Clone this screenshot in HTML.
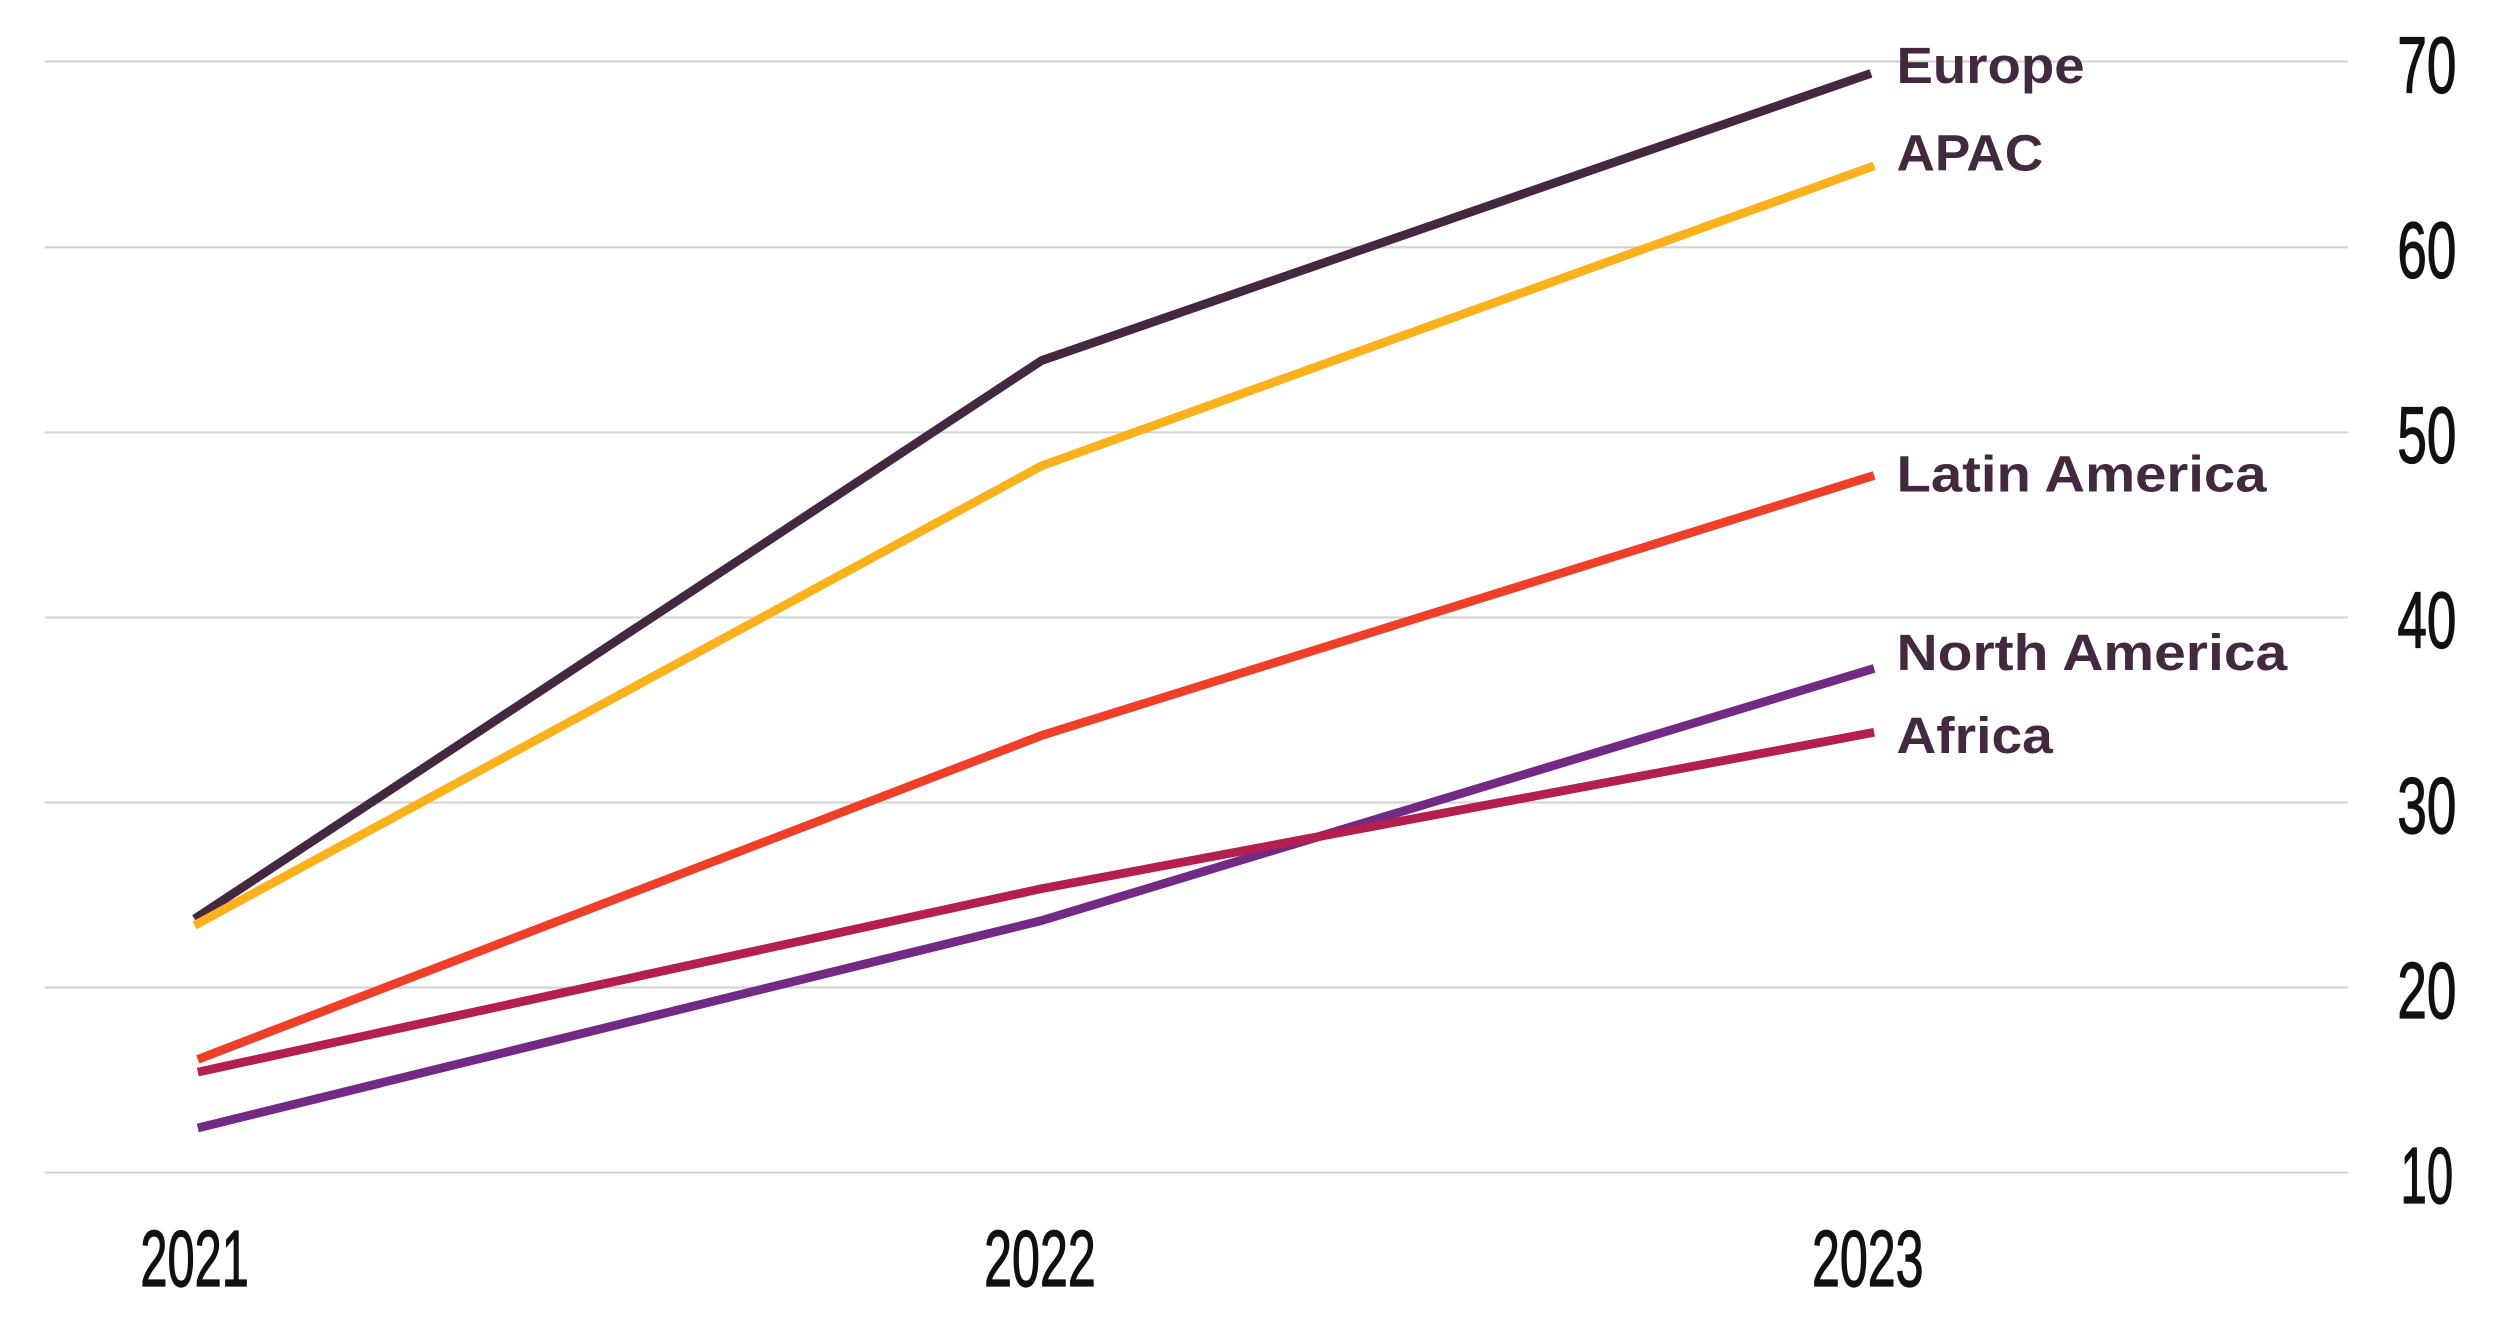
<!DOCTYPE html>
<html><head><meta charset="utf-8"><style>html,body{margin:0;padding:0;background:#fff}svg{display:block}</style></head>
<body>
<svg width="2501" height="1321" viewBox="0 0 1568 828" preserveAspectRatio="none" xmlns="http://www.w3.org/2000/svg">
<g stroke="#d3d3d3" stroke-width="1.3">
<line x1="28" y1="38.5" x2="1472" y2="38.5"/>
<line x1="28" y1="155" x2="1472" y2="155"/>
<line x1="28" y1="271" x2="1472" y2="271"/>
<line x1="28" y1="387" x2="1472" y2="387"/>
<line x1="28" y1="503" x2="1472" y2="503"/>
<line x1="28" y1="619" x2="1472" y2="619"/>
<line x1="28" y1="735" x2="1472" y2="735"/>
</g>
<g font-family="Liberation Sans, sans-serif" font-size="50" fill="#111" stroke="#111" stroke-width="0.8">
<text x="1503" y="58" textLength="37" lengthAdjust="spacingAndGlyphs">70</text>
<text x="1503" y="174" textLength="37" lengthAdjust="spacingAndGlyphs">60</text>
<text x="1503" y="290" textLength="37" lengthAdjust="spacingAndGlyphs">50</text>
<text x="1503" y="406" textLength="37" lengthAdjust="spacingAndGlyphs">40</text>
<text x="1503" y="522" textLength="37" lengthAdjust="spacingAndGlyphs">30</text>
<text x="1503" y="638" textLength="37" lengthAdjust="spacingAndGlyphs">20</text>
<text x="1505" y="754" textLength="33" lengthAdjust="spacingAndGlyphs">10</text>
<text x="88" y="806" textLength="68" lengthAdjust="spacingAndGlyphs">2021</text>
<text x="617" y="806" textLength="70" lengthAdjust="spacingAndGlyphs">2022</text>
<text x="1136" y="806" textLength="70" lengthAdjust="spacingAndGlyphs">2023</text>
</g>
<g fill="none" stroke-width="5.5" stroke-linejoin="round">
<polyline stroke="#44283f" points="122,576 653,226 1173,46"/>
<polyline stroke="#fbb11b" points="122,580 653,292 1175,104"/>
<polyline stroke="#ef3f28" points="124,664 653,461 1175,298"/>
<polyline stroke="#722a85" points="124,707 653,577 1175,419"/>
<polyline stroke="#b41f4f" points="124,672 653,557 1175,459"/>
</g>
<g font-family="Liberation Sans, sans-serif" font-weight="bold" font-size="32" fill="#43293f">
<text x="1189" y="52" textLength="118" lengthAdjust="spacingAndGlyphs">Europe</text>
<text x="1189" y="107" textLength="92" lengthAdjust="spacingAndGlyphs">APAC</text>
<text x="1189" y="308" textLength="232" lengthAdjust="spacingAndGlyphs">Latin America</text>
<text x="1189" y="420" textLength="245" lengthAdjust="spacingAndGlyphs">North America</text>
<text x="1189" y="472" textLength="98" lengthAdjust="spacingAndGlyphs">Africa</text>
</g>
</svg>
</body></html>
